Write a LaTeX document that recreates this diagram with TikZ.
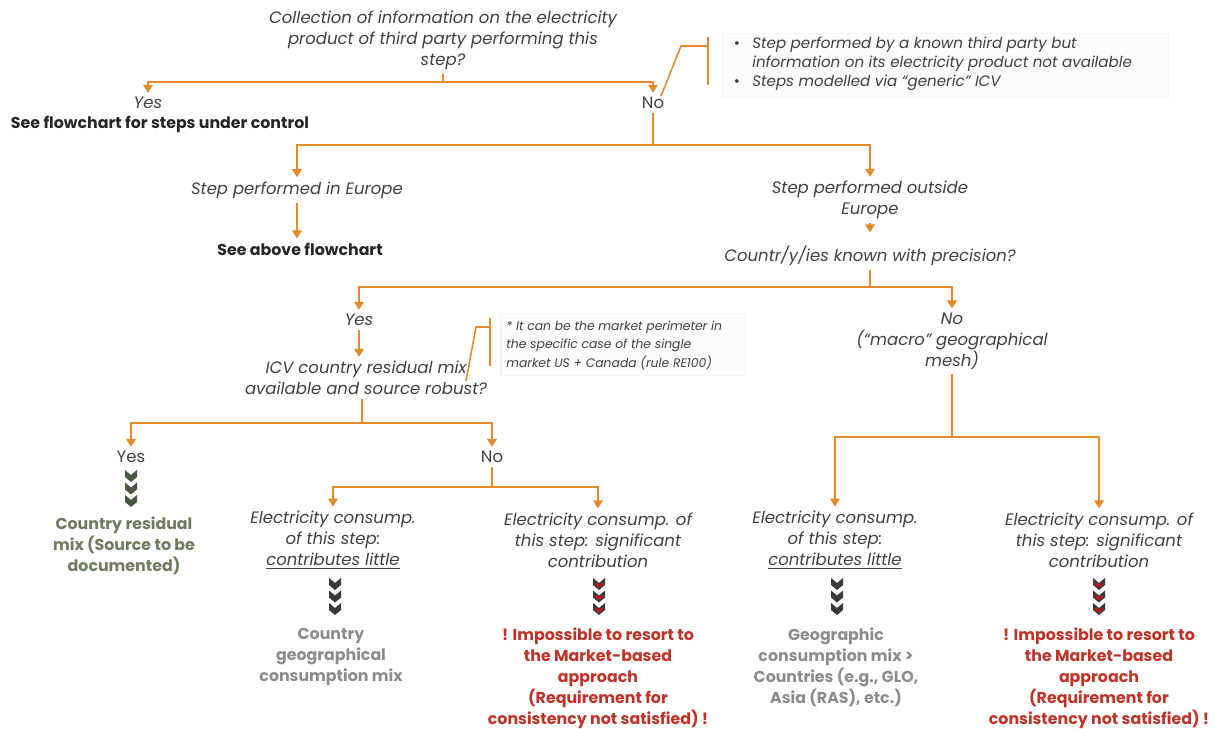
\documentclass[tikz,border=0pt]{standalone}
\usepackage{fontspec}
\setmainfont{Poppins}
\usetikzlibrary{arrows.meta}
\definecolor{orng}{RGB}{228,138,42}
\definecolor{txtc}{RGB}{64,64,64}
\definecolor{grn}{RGB}{110,124,94}
\definecolor{gry}{RGB}{140,140,140}
\definecolor{redt}{RGB}{192,50,38}
\definecolor{chevd}{RGB}{58,58,58}
\definecolor{chevg}{RGB}{74,88,66}
\definecolor{chevr}{RGB}{205,20,20}
\newcommand\mainsz{\fontsize{9.4}{11.9}\selectfont}
\newcommand\boldsz{\fontsize{9}{11.9}\selectfont}
\newcommand\callsz{\fontsize{8.6}{10.8}\selectfont}
\newcommand\smallsz{\fontsize{7.05}{10.5}\selectfont}
\tikzset{
  it/.style={font={\mainsz\itshape}, text=txtc, align=center, inner sep=0pt, outer sep=2.5pt},
  up/.style={font={\mainsz}, text=txtc, align=center, inner sep=0pt, outer sep=2.5pt},
  bd/.style={font={\boldsz\bfseries}, text=black!85, align=center, inner sep=0pt, outer sep=2.5pt},
  res/.style={font={\boldsz\bfseries}, align=center, inner sep=0pt},
  ln/.style={draw=orng, line width=0.9pt},
  arr/.style={ln, -{Triangle[width=5.5pt,length=4.5pt]}},
  callbox/.style={fill=black!1.2, draw=black!4, line width=0.4pt},
  pics/chevs/.style n args={2}{code={
    \foreach \k in {0,1,2}{
      \fill[#1] (-6,{\k*12.5}) -- (0,{\k*12.5+5}) -- (6,{\k*12.5}) -- (6,{\k*12.5+7}) -- (0,{\k*12.5+12}) -- (-6,{\k*12.5+7}) -- cycle;
      \draw[#2, line width=1.2pt] (-3.6,{\k*12.5+5.3}) -- (0,{\k*12.5+8.3}) -- (3.6,{\k*12.5+5.3});
    }
  }}
}
\begin{document}
\begin{tikzpicture}[x=0.02cm,y=-0.02cm]
\useasboundingbox (0,0) rectangle (1225,729);

% ---- top question
\node[it] (q1) at (443,40) {Collection of information on the electricity\\product of third party performing this\\step?};
\coordinate (j1) at (443,82);
\node[it] (yes1) at (148,103) {Yes};
\node[bd] (seeflow) at (160,124) {See flowchart for steps under control};
\node[up] (no1) at (653,103) {No};
\draw[ln] (q1.south) -- (j1);
\draw[arr] (j1) -| (yes1.north);
\draw[arr] (j1) -| (no1.north);

% ---- callout 1
\draw[callbox] (722,33) rectangle (1168,97);
\node[font={\callsz}, text=txtc, inner sep=0pt] (b1) at (737,45) {•};
\node[font={\callsz}, text=txtc, inner sep=0pt] (b2) at (737,83) {•};
\node[font={\callsz\itshape}, text=txtc, align=left, anchor=west, inner sep=0pt] (call1) at (752,64)
  {Step performed by a known third party  but\\information on its electricity product not available\\Steps modelled via “generic” ICV};
\coordinate (c1a) at (661,96);
\coordinate (c1b) at (681,46);
\coordinate (c1c) at (708,46);
\coordinate (c1t) at (708,37);
\coordinate (c1d) at (708,85);
\draw[ln] (c1a) -- (c1b) -- (c1c);
\draw[ln] (c1t) -- (c1d);

% ---- Europe / outside
\coordinate (j2) at (653,145);
\node[it] (europe) at (297,190) {Step performed in Europe};
\node[bd] (seeabove) at (300,249) {See above flowchart};
\node[it] (outside) at (870,200) {Step performed outside\\Europe};
\node[it] (countr) at (870,256) {Countr/y/ies known with precision?};
\draw[ln] (no1.south) -- (j2);
\draw[arr] (j2) -| (europe.north);
\draw[arr] (j2) -| (outside.north);
\draw[arr] (europe.south) -- (europe.south |- seeabove.north);
\draw[arr] (outside.south) -- ++(0,9);

% ---- precision yes / no
\coordinate (j3) at (870,287);
\node[it] (yes2) at (359,320) {Yes};
\node[it] (no2) at (952,341) {No\\(“macro” geographical\\mesh)};
\draw[ln] (countr.south) -- (j3);
\draw[arr] (j3) -| (yes2.north);
\draw[arr] (j3) -| (no2.north);

\node[it] (icv) at (366,378) {ICV country residual mix\\available and source robust?};
\draw[arr] (yes2.south) -- (yes2.south |- icv.north);

% ---- callout 2
\draw[callbox] (500,313) rectangle (745,375);
\node[font={\smallsz\itshape}, text=txtc, align=left, anchor=west, inner sep=0pt] (call2) at (506,345)
  {* It can be the market perimeter in\\the specific case of the single\\market US + Canada (rule RE100)};
\coordinate (c2a) at (466,381);
\coordinate (c2b) at (476,327);
\coordinate (c2c) at (490,327);
\coordinate (c2t) at (490,318);
\coordinate (c2d) at (490,366);
\draw[ln] (c2a) -- (c2b) -- (c2c);
\draw[ln] (c2t) -- (c2d);

% ---- ICV yes / no
\coordinate (j4) at (362,423);
\node[up] (yes3) at (131,457) {Yes};
\node[up] (no3) at (492,457) {No};
\draw[ln] (icv.south -| j4) -- (j4);
\draw[arr] (j4) -| (yes3.north);
\draw[arr] (j4) -| (no3.north);

\pic at (131,470) {chevs={chevg}{chevg}};
\node[res, text=grn] (res1) at (124,546) {Country residual\\mix (Source to be\\documented)};

% ---- ICV no branches
\coordinate (j5) at (492,487);
\node[it] (cont1) at (333,540) {Electricity consump.\\of this step:\\\underline{contributes little}};
\node[it] (sig1) at (598,540) {Electricity consump. of\\this step: significant\\contribution};
\draw[ln] (no3.south) -- (j5);
\draw[arr] (j5) -| (cont1.north);
\draw[arr] (j5) -| (sig1.north);

\pic at (335,578) {chevs={chevd}{chevd}};
\pic at (599,578) {chevs={chevd}{chevr}};
\node[res, text=gry] (geo1) at (331,657) {Country\\geographical\\consumption mix};
\node[res, text=redt] (imp1) at (598,678) {! Impossible to resort to\\the Market-based\\approach\\(Requirement for\\consistency not satisfied) !};

% ---- macro branches
\coordinate (j6) at (952,437);
\node[it] (cont2) at (835,540) {Electricity consump.\\of this step:\\\underline{contributes little}};
\node[it] (sig2) at (1099,540) {Electricity consump. of\\this step: significant\\contribution};
\draw[ln] (no2.south) -- (j6);
\draw[arr] (j6) -| (cont2.north);
\draw[arr] (j6) -| (sig2.north);

\pic at (837,578) {chevs={chevd}{chevd}};
\pic at (1099,578) {chevs={chevd}{chevr}};
\node[res, text=gry] (geo2) at (836,667) {Geographic\\consumption mix >\\Countries (e.g., GLO,\\Asia (RAS), etc.)};
\node[res, text=redt] (imp2) at (1099,678) {! Impossible to resort to\\the Market-based\\approach\\(Requirement for\\consistency not satisfied) !};
\end{tikzpicture}
\end{document}
